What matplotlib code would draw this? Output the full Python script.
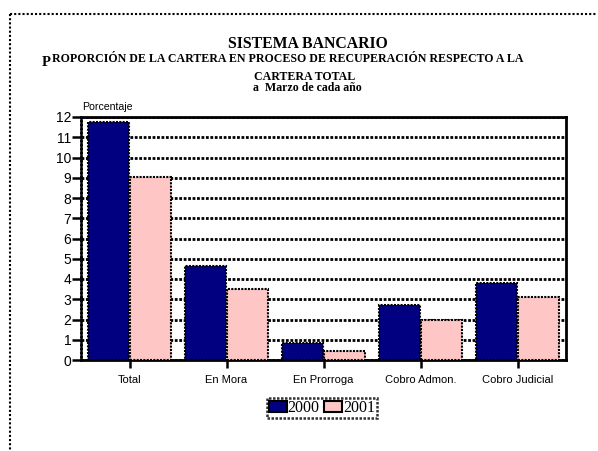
import numpy as np
import matplotlib.pyplot as plt
from matplotlib.lines import Line2D

# datos
categorias = ['Total', 'En Mora', 'En Prorroga', 'Cobro Admon.', 'Cobro Judicial']
anio_2000 = [11.73, 4.62, 0.85, 2.72, 3.81]
anio_2001 = [9.03, 3.51, 0.45, 1.98, 3.10]
anios = ['2000', '2001']

azul = '#000080'
rosa = '#FFC6C6'
punteado = (0, (1, 0.6))

fig = plt.figure(figsize=(5.98, 4.51), dpi=100)
W, H = 598, 451
ax = fig.add_axes([81 / W, 1 - 360 / H, 485 / W, 243 / H])

x = np.arange(len(categorias))
ancho = 0.425
ax.bar(x - ancho / 2 - 0.005, anio_2000, ancho, color=azul, edgecolor='black',
       linewidth=1.5, linestyle=punteado, zorder=3, label=anios[0])
ax.bar(x + ancho / 2 + 0.005, anio_2001, ancho, color=rosa, edgecolor='black',
       linewidth=1.5, linestyle=punteado, zorder=3, label=anios[1])

ax.set_xlim(-0.5, len(categorias) - 0.5)
ax.set_ylim(0, 12)
ax.set_yticks(range(0, 13))
ax.set_xticks(x)
ax.set_xticklabels(categorias, fontsize=8, family='Liberation Sans')
for lab in ax.get_yticklabels():
    lab.set_fontsize(10)
    lab.set_family('Liberation Sans')

ax.grid(axis='y', color='black', linestyle=punteado, linewidth=2, zorder=1)
ax.set_axisbelow(True)
ax.tick_params(axis='y', length=6.5, width=1.8, color='black', pad=0.5)
ax.tick_params(axis='x', length=5.5, width=1.8, color='black', pad=5.5)
for t in ax.yaxis.get_ticklines() + ax.xaxis.get_ticklines():
    t.set_linestyle(':')

ax.spines['top'].set_linewidth(2)
ax.spines['right'].set_linewidth(2)
ax.spines['bottom'].set_linewidth(2)
ax.spines['left'].set_linewidth(1.8)
ax.spines['left'].set_linestyle(punteado)

# titulos
fig.text(308 / W, 1 - 48 / H, 'SISTEMA BANCARIO', ha='center', va='baseline',
         family='Liberation Serif', weight='bold', fontsize=11.3)
fig.text(42 / W, 1 - 66 / H, 'P', ha='left', va='baseline',
         family='Liberation Serif', weight='bold', fontsize=10.5)
fig.text(52 / W, 1 - 61.5 / H,
         'ROPORCIÓN DE LA CARTERA EN PROCESO DE RECUPERACIÓN RESPECTO A LA',
         ha='left', va='baseline', family='Liberation Serif', weight='bold',
         fontsize=8.6)
fig.text(254 / W, 1 - 80 / H, 'CARTERA TOTAL', ha='left', va='baseline',
         family='Liberation Serif', weight='bold', fontsize=8.6)
fig.text(253 / W, 1 - 91 / H, 'a  Marzo de cada año', ha='left', va='baseline',
         family='Liberation Serif', weight='bold', fontsize=8.6)
fig.text(82 / W, 1 - 110 / H, 'Porcentaje', ha='left', va='baseline',
         family='Liberation Sans', fontsize=7.6)

# leyenda
leg = fig.legend(loc='center', bbox_to_anchor=(322 / W, 1 - 408 / H), ncol=2,
                 prop={'family': 'Liberation Serif', 'size': 11.5},
                 handlelength=1.1, handleheight=0.7, handletextpad=0.05,
                 columnspacing=0.3, borderpad=0.15, fancybox=False, frameon=True)
leg.get_frame().set_edgecolor('black')
leg.get_frame().set_linewidth(1.8)
leg.get_frame().set_linestyle(punteado)
for h in leg.legend_handles:
    h.set_linestyle('-')

# borde exterior punteado
fig.add_artist(Line2D([10 / W, 596 / W], [1 - 14 / H, 1 - 14 / H],
                      transform=fig.transFigure, color='black', linewidth=1.5,
                      linestyle=(0, (1, 1))))
fig.add_artist(Line2D([10 / W, 10 / W], [1 - 14 / H, 0],
                      transform=fig.transFigure, color='black', linewidth=1.5,
                      linestyle=(0, (1, 1))))

fig.savefig('out.png', dpi=100)
